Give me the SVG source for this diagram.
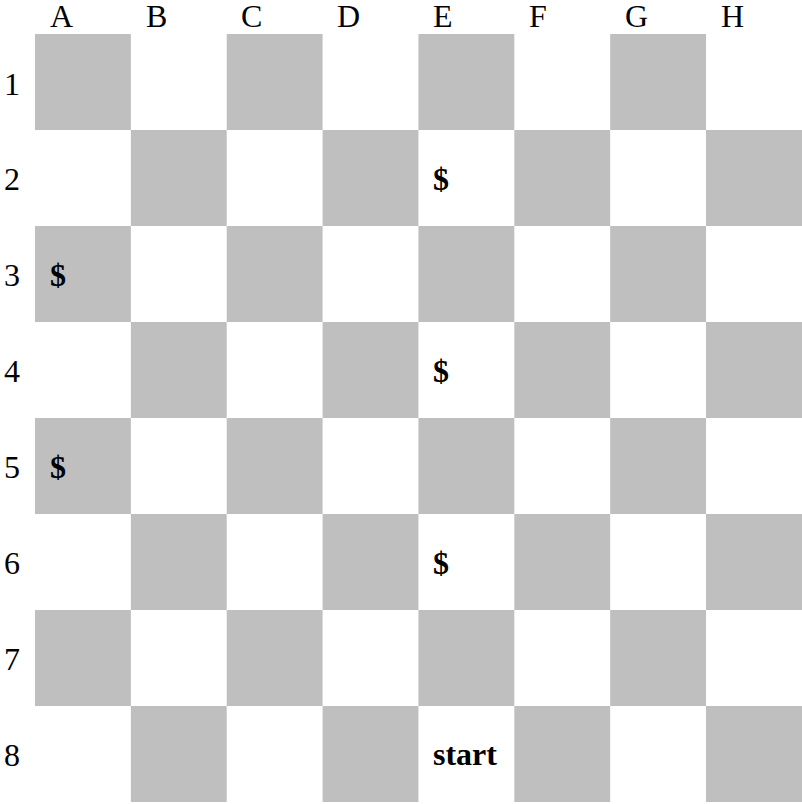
<svg xmlns="http://www.w3.org/2000/svg" width="802" height="804" viewBox="0 0 802 804">
<style>
.g{fill:#bfbfbf}
.lbl{font-family:"Liberation Serif","Times New Roman",serif;font-size:32px;fill:#000}
.b{font-weight:bold}
</style>
<rect width="802" height="804" fill="#fff"/>
<g id="board">
<rect class="g" x="35" y="34" width="95.86" height="96"/>
<rect class="g" x="226.72" y="34" width="95.86" height="96"/>
<rect class="g" x="418.44" y="34" width="95.86" height="96"/>
<rect class="g" x="610.16" y="34" width="95.86" height="96"/>
<rect class="g" x="130.86" y="130" width="95.86" height="96"/>
<rect class="g" x="322.58" y="130" width="95.86" height="96"/>
<rect class="g" x="514.3" y="130" width="95.86" height="96"/>
<rect class="g" x="706.02" y="130" width="95.98" height="96"/>
<rect class="g" x="35" y="226" width="95.86" height="96"/>
<rect class="g" x="226.72" y="226" width="95.86" height="96"/>
<rect class="g" x="418.44" y="226" width="95.86" height="96"/>
<rect class="g" x="610.16" y="226" width="95.86" height="96"/>
<rect class="g" x="130.86" y="322" width="95.86" height="96"/>
<rect class="g" x="322.58" y="322" width="95.86" height="96"/>
<rect class="g" x="514.3" y="322" width="95.86" height="96"/>
<rect class="g" x="706.02" y="322" width="95.98" height="96"/>
<rect class="g" x="35" y="418" width="95.86" height="96"/>
<rect class="g" x="226.72" y="418" width="95.86" height="96"/>
<rect class="g" x="418.44" y="418" width="95.86" height="96"/>
<rect class="g" x="610.16" y="418" width="95.86" height="96"/>
<rect class="g" x="130.86" y="514" width="95.86" height="96"/>
<rect class="g" x="322.58" y="514" width="95.86" height="96"/>
<rect class="g" x="514.3" y="514" width="95.86" height="96"/>
<rect class="g" x="706.02" y="514" width="95.98" height="96"/>
<rect class="g" x="35" y="610" width="95.86" height="96"/>
<rect class="g" x="226.72" y="610" width="95.86" height="96"/>
<rect class="g" x="418.44" y="610" width="95.86" height="96"/>
<rect class="g" x="610.16" y="610" width="95.86" height="96"/>
<rect class="g" x="130.86" y="706" width="95.86" height="96"/>
<rect class="g" x="322.58" y="706" width="95.86" height="96"/>
<rect class="g" x="514.3" y="706" width="95.86" height="96"/>
<rect class="g" x="706.02" y="706" width="95.98" height="96"/>
</g>
<g id="column-labels" class="lbl">
<text x="50" y="27">A</text>
<text x="146" y="27">B</text>
<text x="241" y="27">C</text>
<text x="337" y="27">D</text>
<text x="433" y="27">E</text>
<text x="529" y="27">F</text>
<text x="625" y="27">G</text>
<text x="721" y="27">H</text>
</g>
<g id="row-labels" class="lbl">
<text x="4" y="95">1</text>
<text x="4" y="190">2</text>
<text x="4" y="286">3</text>
<text x="4" y="382">4</text>
<text x="4" y="478">5</text>
<text x="4" y="574">6</text>
<text x="4" y="670">7</text>
<text x="4" y="766">8</text>
</g>
<g id="marks" class="lbl b">
<text x="433" y="190">$</text>
<text x="50" y="286">$</text>
<text x="433" y="382">$</text>
<text x="50" y="478">$</text>
<text x="433" y="574">$</text>
<text x="433" y="765">start</text>
</g>
</svg>
